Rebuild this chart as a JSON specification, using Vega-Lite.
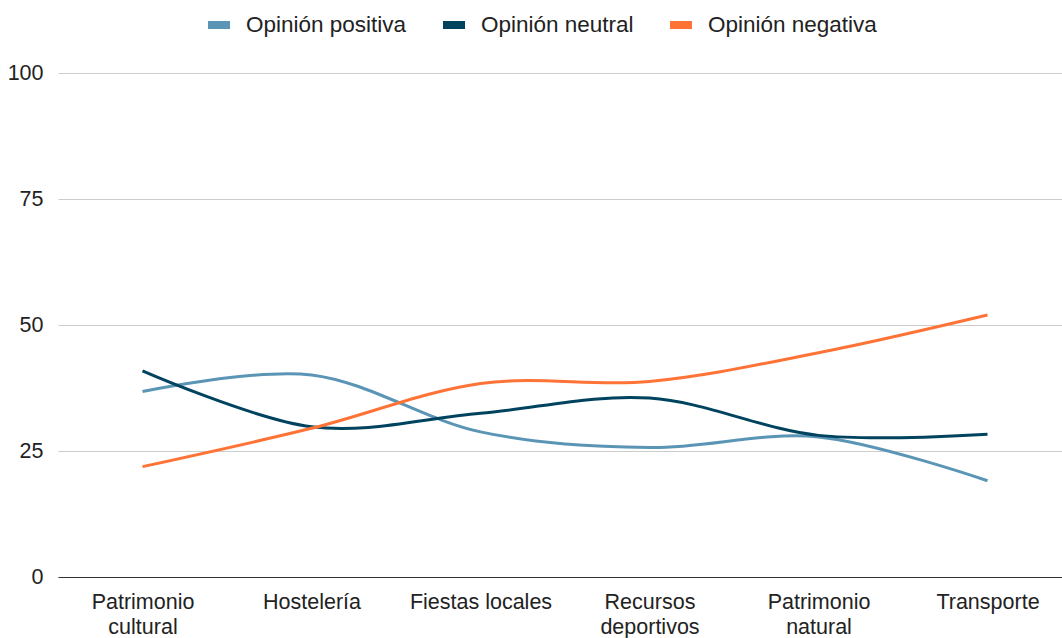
{
  "$schema": "https://vega.github.io/schema/vega-lite/v6.json",
  "autosize": {"type": "none"},
  "padding": {"left": 58, "top": 73, "right": 0, "bottom": 61},
  "width": 1014,
  "height": 504,
  "config": {
    "view": {"stroke": null},
    "font": "Liberation Sans",
    "axis": {"labelFont": "Liberation Sans", "labelFontSize": 21.5, "labelColor": "#222222", "title": null},
    "legend": {"labelFont": "Liberation Sans", "labelFontSize": 22.5, "labelColor": "#222222", "labelLimit": 400}
  },
  "data": {
    "values": [
      {"categoria": "Patrimonio cultural", "serie": "Opinión positiva", "valor": 36.8},
      {"categoria": "Hostelería", "serie": "Opinión positiva", "valor": 40.1},
      {"categoria": "Fiestas locales", "serie": "Opinión positiva", "valor": 28.8},
      {"categoria": "Recursos deportivos", "serie": "Opinión positiva", "valor": 25.7},
      {"categoria": "Patrimonio natural", "serie": "Opinión positiva", "valor": 27.8},
      {"categoria": "Transporte", "serie": "Opinión positiva", "valor": 19.1},
      {"categoria": "Patrimonio cultural", "serie": "Opinión neutral", "valor": 40.9},
      {"categoria": "Hostelería", "serie": "Opinión neutral", "valor": 29.8},
      {"categoria": "Fiestas locales", "serie": "Opinión neutral", "valor": 32.5},
      {"categoria": "Recursos deportivos", "serie": "Opinión neutral", "valor": 35.5},
      {"categoria": "Patrimonio natural", "serie": "Opinión neutral", "valor": 28.1},
      {"categoria": "Transporte", "serie": "Opinión neutral", "valor": 28.3},
      {"categoria": "Patrimonio cultural", "serie": "Opinión negativa", "valor": 21.9},
      {"categoria": "Hostelería", "serie": "Opinión negativa", "valor": 29.5},
      {"categoria": "Fiestas locales", "serie": "Opinión negativa", "valor": 38.4},
      {"categoria": "Recursos deportivos", "serie": "Opinión negativa", "valor": 38.8},
      {"categoria": "Patrimonio natural", "serie": "Opinión negativa", "valor": 44.5},
      {"categoria": "Transporte", "serie": "Opinión negativa", "valor": 52.0}
    ]
  },
  "encoding": {
    "x": {
      "field": "categoria",
      "type": "nominal",
      "sort": null,
      "scale": {"type": "point", "padding": 0.5},
      "axis": {
        "domainColor": "#333333",
        "domainWidth": 1.2,
        "ticks": false,
        "grid": false,
        "labelAngle": 0,
        "labelPadding": 14,
        "labelLineHeight": 25,
        "labelExpr": "datum.value == 'Patrimonio cultural' ? ['Patrimonio', 'cultural'] : datum.value == 'Recursos deportivos' ? ['Recursos', 'deportivos'] : datum.value == 'Patrimonio natural' ? ['Patrimonio', 'natural'] : datum.label"
      }
    },
    "y": {
      "field": "valor",
      "type": "quantitative",
      "scale": {"domain": [0, 100]},
      "axis": {
        "values": [0, 25, 50, 75, 100],
        "domain": false,
        "ticks": false,
        "gridColor": "#cccccc",
        "gridWidth": 1,
        "labelPadding": 15
      }
    },
    "color": {
      "field": "serie",
      "type": "nominal",
      "scale": {
        "domain": ["Opinión positiva", "Opinión neutral", "Opinión negativa"],
        "range": ["#5b95b5", "#00435f", "#ff7336"]
      },
      "legend": {
        "title": null,
        "orient": "none",
        "direction": "horizontal",
        "legendX": 146,
        "legendY": -63,
        "symbolType": "stroke",
        "symbolSize": 484,
        "symbolStrokeWidth": 8,
        "labelOffset": 12,
        "columnPadding": 20
      }
    }
  },
  "layer": [
    {
      "transform": [{"filter": "datum.serie == 'Opinión positiva'"}],
      "mark": {"type": "line", "interpolate": "cardinal", "strokeWidth": 3}
    },
    {
      "transform": [{"filter": "datum.serie == 'Opinión neutral'"}],
      "mark": {"type": "line", "interpolate": "cardinal", "strokeWidth": 3}
    },
    {
      "transform": [{"filter": "datum.serie == 'Opinión negativa'"}],
      "mark": {"type": "line", "interpolate": "cardinal", "strokeWidth": 3}
    }
  ]
}
